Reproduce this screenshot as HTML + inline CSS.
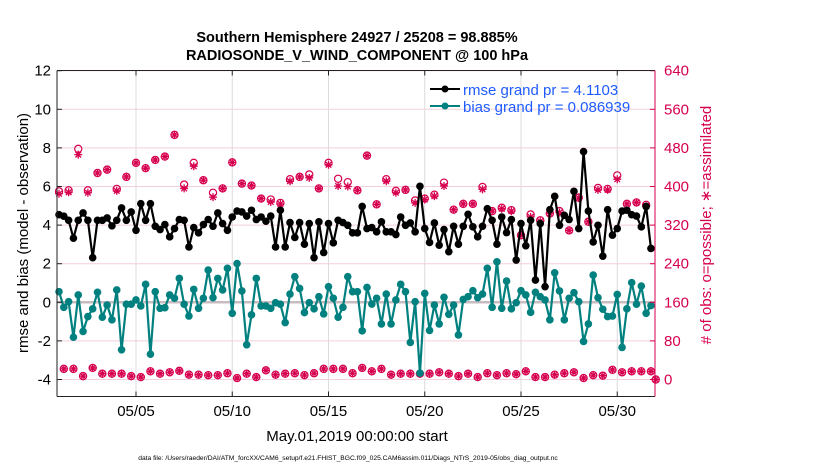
<!DOCTYPE html>
<html><head><meta charset="utf-8"><style>
html,body{margin:0;padding:0;background:#fff;}
svg{display:block;font-family:"Liberation Sans",Arial,sans-serif;}
</style></head><body>
<svg id="chart" width="830" height="470" viewBox="0 0 830 470" xmlns="http://www.w3.org/2000/svg">
<text x="357" y="42" font-size="14.5" font-weight="bold" text-anchor="middle">Southern Hemisphere 24927 / 25208 = 98.885%</text>
<text x="357" y="60" font-size="14.5" font-weight="bold" text-anchor="middle">RADIOSONDE_V_WIND_COMPONENT @ 100 hPa</text>
<text x="357" y="441" font-size="15" text-anchor="middle">May.01,2019 00:00:00 start</text>
<text x="348" y="460" font-size="6.7" text-anchor="middle">data file: /Users/raeder/DAI/ATM_forcXX/CAM6_setup/f.e21.FHIST_BGC.f09_025.CAM6assim.011/Diags_NTrS_2019-05/obs_diag_output.nc</text>
<text transform="translate(28,233) rotate(-90)" font-size="15" text-anchor="middle">rmse and bias (model - observation)</text>
<text transform="translate(711,225) rotate(-90)" font-size="15" fill="#d6004f" text-anchor="middle"># of obs: o=possible; ∗=assimilated</text>
<g id="grid"></g><g id="marks"></g><g id="axes"></g>
<g>
<line x1="430" y1="89" x2="460" y2="89" stroke="#000" stroke-width="2"/><circle cx="445" cy="89" r="3.5" fill="#000"/>
<text x="463" y="95" font-size="15" fill="#1f5cff">rmse grand pr = 4.1103</text>
<line x1="430" y1="106" x2="460" y2="106" stroke="#00807f" stroke-width="2"/><circle cx="445" cy="106" r="3.5" fill="#00807f"/>
<text x="463" y="112" font-size="15" fill="#1f5cff">bias grand pr = 0.086939</text>
</g>
</svg>
<script>
const rmse=[4.54,4.46,4.25,3.32,4.25,4.63,4.25,2.31,4.25,4.25,4.37,3.96,4.25,4.89,4.25,4.68,3.73,5.11,4.25,5.11,3.94,3.77,4.03,3.39,3.82,4.29,
4.25,2.87,3.87,3.60,4.03,4.29,3.94,4.63,4.08,3.73,4.42,4.73,4.68,4.47,4.77,4.29,4.42,4.20,4.47,2.87,4.77,2.87,4.13,3.36,4.13,3.01,4.08,2.31,4.17,2.58,4.08,3.08,4.25,4.13,3.99,3.60,3.60,
4.97,3.82,3.87,3.65,4.17,3.65,3.65,3.51,4.42,3.99,4.11,3.65,6.01,3.82,3.10,4.11,2.96,3.77,2.62,3.94,3.01,3.94,4.56,3.91,3.39,3.94,4.85,4.25,3.01,4.42,3.61,4.29,2.19,4.08,2.93,4.25,1.15,4.08,0.81,4.80,5.49,3.99,4.51,4.29,5.75,3.82,7.81,4.73,3.13,3.99,2.39,4.80,3.48,3.82,4.73,4.77,4.54,4.47,3.91,4.97,2.79];
const bias=[0.55,-0.26,0.03,-1.81,0.38,-1.51,-0.74,-0.34,0.52,-0.77,-0.14,-0.91,0.64,-2.46,-0.10,-0.10,0.12,-0.19,0.93,-2.69,0.55,-0.31,-0.28,0.38,0.21,1.24,
-0.10,-0.71,0.67,-0.31,0.21,1.67,0.24,1.24,0.64,1.76,-0.57,2.01,0.59,-2.20,-0.65,1.24,-0.19,-0.19,-0.31,-0.02,-0.10,-1.05,0.43,1.33,0.72,-0.53,-0.02,-0.34,0.29,-0.60,0.81,0.21,-0.77,-0.26,1.33,0.55,0.55,
-1.48,0.77,-0.09,0.21,-1.12,0.43,-1.12,0.12,0.93,0.55,-2.08,0.03,-3.67,0.46,-1.46,-0.14,-1.12,0.26,-0.62,-0.14,-1.69,0.15,0.29,0.60,0.24,0.43,1.76,-0.26,2.10,-0.31,1.10,-0.34,-0.02,0.60,0.38,-0.52,0.52,0.29,0.12,-0.91,1.53,0.59,-0.91,0.21,0.50,0.03,-2.03,-1.12,1.41,0.24,-0.36,-0.74,-0.71,0.41,-2.34,-0.34,1.02,-0.10,0.84,-0.57,-0.17];
// obs counts at 00Z/12Z (even times) and 06Z/18Z (odd times)
const possibleMain=[390,392,478,392,428,435,395,420,449,438,455,462,507,404,449,413,387,396,450,406,402,375,373,366,415,420,425,396,449,416,409,392,
464,363,415,391,393,371,375,383,408,352,364,364,399,349,356,351,299,342,330,344,349,309,377,327,397,395,423,364,367,362,0];
const assimMain=[385,388,466,387,428,435,391,420,449,438,455,462,507,396,442,413,378,396,450,406,402,375,368,364,411,420,418,396,445,401,400,392,
464,363,411,387,393,366,373,380,401,352,364,364,394,349,354,349,299,337,328,344,346,309,376,327,393,393,415,364,367,359,0];
const possibleOff=[22,22,7,24,12,12,12,7,5,17,12,15,18,10,10,9,9,13,3,12,5,19,10,12,13,9,13,22,22,22,13,
24,17,22,10,12,12,12,12,15,12,7,12,5,13,9,13,11,17,5,5,10,13,15,3,9,8,20,15,17,17,17];
const assimOff=possibleOff.slice();
const leftTicks=[-4,-2,0,2,4,6,8,10,12];
const rightTicks=[0,80,160,240,320,400,480,560,640];
const dateTicks=[5,10,15,20,25,30];
const dateLabels=['05/05','05/10','05/15','05/20','05/25','05/30'];

const NS='http://www.w3.org/2000/svg';
const X0=57,X1=655,Y0=70.5,Y1=396.5;
function x(d){return 136+(d-5)*19.25;}
function y(v){return 302.3-v*19.3;}
function yr(r){return y(r/40-4);}
function tday(i){return 1+i*0.25;}
function mk(tag,attrs,parent){const e=document.createElementNS(NS,tag);for(const k in attrs)e.setAttribute(k,attrs[k]);parent.appendChild(e);return e;}
const grid=document.getElementById('grid'),marks=document.getElementById('marks'),axes=document.getElementById('axes');

dateTicks.forEach((d,k)=>{
 const l=mk('line',{x1:x(d),x2:x(d),y1:Y0,y2:Y1,stroke:'#dcdcdc','stroke-width':1},grid);
 
 
 const t=mk('text',{x:x(d),y:416,'font-size':15,'text-anchor':'middle'},axes);
 t.textContent=dateLabels[k];
 
 
 mk('line',{x1:x(d),x2:x(d),y1:Y1,y2:Y1-5,stroke:'#222'},axes);
 mk('line',{x1:x(d),x2:x(d),y1:Y0,y2:Y0+5,stroke:'#222'},axes);
});
rightTicks.forEach(r=>{
 const l=mk('line',{x1:X0,x2:X1,y1:yr(r),y2:yr(r),stroke:'#f3cfdc','stroke-width':1},grid);
 
 
 const t=mk('text',{x:664,y:yr(r)+5,'font-size':15,fill:'#d6004f'},axes);
 t.textContent=r;
 
 
 mk('line',{x1:X1,x2:X1-5,y1:yr(r),y2:yr(r),stroke:'#d6004f'},axes);
});
leftTicks.forEach(v=>{
 const t=mk('text',{x:51,y:y(v)+5,'font-size':15,'text-anchor':'end'},axes);
 t.textContent=v;
 
 
 mk('line',{x1:X0,x2:X0+5,y1:y(v),y2:y(v),stroke:'#222'},axes);
});
const zl=mk('line',{x1:X0,x2:X1,y1:y(0),y2:y(0),stroke:'#c8bcc0','stroke-width':2.5},grid);


const la=mk('line',{x1:X0,x2:X0,y1:Y0,y2:Y1,stroke:'#222'},axes);


mk('line',{x1:X0,x2:X1,y1:Y1,y2:Y1,stroke:'#222'},axes);
mk('line',{x1:X0,x2:X1,y1:Y0,y2:Y0,stroke:'#222'},axes);
const ra=mk('line',{x1:X1,x2:X1,y1:Y0,y2:Y1,stroke:'#d6004f'},axes);



function star(cx,cy,r,parent){
 let d='';for(let a=0;a<4;a++){const an=a*Math.PI/4;d+=`M${cx-r*Math.cos(an)},${cy-r*Math.sin(an)}L${cx+r*Math.cos(an)},${cy+r*Math.sin(an)}`;}
 return mk('path',{d:d,stroke:'#d6004f','stroke-width':1.3,fill:'none'},parent);
}
function obsPoint(i,pv,av){
 const cx=x(tday(i));
 const c=mk('circle',{cx:cx,cy:yr(pv),r:3.6,fill:'none',stroke:'#d6004f','stroke-width':1.2},marks);
 
 
 const s=star(cx,yr(av),4,marks);
 
 
}
possibleMain.forEach((p,k)=>obsPoint(2*k,p,assimMain[k]));
possibleOff.forEach((p,k)=>obsPoint(2*k+1,p,assimOff[k]));

function series(vals,color,name){
 const pts=vals.map((v,i)=>x(tday(i))+','+y(v)).join(' ');
 const pl=mk('polyline',{points:pts,fill:'none',stroke:color,'stroke-width':2.2,'stroke-linejoin':'round'},marks);
 
 
 vals.forEach((v,i)=>{
  const c=mk('circle',{cx:x(tday(i)),cy:y(v),r:3.8,fill:color},marks);
  
  
 });
}
series(bias,'#00807f','bias');
series(rmse,'#000000','rmse');
</script>
</body></html>
